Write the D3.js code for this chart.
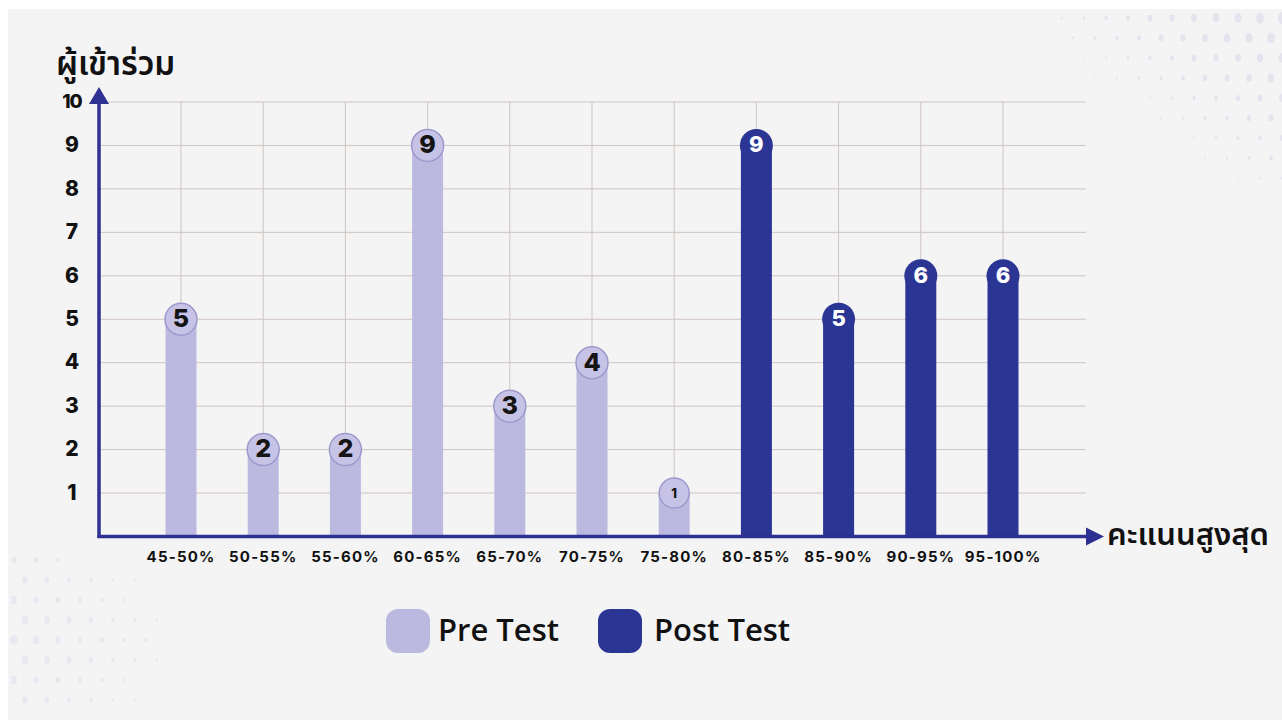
<!DOCTYPE html>
<html>
<head>
<meta charset="utf-8">
<script src="https://cdn.jsdelivr.net/npm/d3@7"></script>
<style>
  html, body { margin: 0; padding: 0; background: #fff; }
  svg { display: block; }
</style>
</head>
<body>
<svg id="chart" width="1282" height="720"></svg>
<script>
// data
const categories = ['45-50%', '50-55%', '55-60%', '60-65%', '65-70%', '70-75%', '75-80%',
  '80-85%', '85-90%', '90-95%', '95-100%'];
const preTest = [5, 2, 2, 9, 3, 4, 1, null, null, null, null];
const postTest = [null, null, null, null, null, null, null, 9, 5, 6, 6];
const yTicks = [1, 2, 3, 4, 5, 6, 7, 8, 9, 10];
const legendItems = ['Pre Test', 'Post Test'];

const PRE = '#bcb9e0';
const POST = '#2a3594';
const AXIS = '#2e3192';
const GRID = '#cfc4c0';
const thaiFont = '"Noto Sans Thai", "Noto Sans", "DejaVu Sans", sans-serif';
const numFont = 'Inter, Roboto, "DejaVu Sans", sans-serif';

const svg = d3.select('#chart');

// page background
svg.append('rect').attr('x', 8).attr('y', 9).attr('width', 1274).attr('height', 711)
  .attr('fill', '#f4f4f5');

// faint halftone decoration, top right and lower left
const deco = svg.append('g').attr('fill', '#d8d6e8');
for (let r = 0; r < 9; r++) {
  for (let c = 0; c < 14; c++) {
    const x = 1282 - c * 22 - (r % 2) * 11;
    const y = 18 + r * 20;
    const s = Math.max(0, 6 - c * 0.45 - r * 0.5);
    if (s > 0.6) deco.append('ellipse').attr('cx', x).attr('cy', y).attr('rx', s * 0.7).attr('ry', s)
      .attr('opacity', 0.55);
  }
}
for (let r = 0; r < 8; r++) {
  for (let c = 0; c < 10; c++) {
    const x = 14 + c * 22 + (r % 2) * 11;
    const y = 560 + r * 20;
    const s = Math.max(0, 5 - c * 0.5 - Math.abs(r - 4) * 0.4);
    if (s > 0.6) deco.append('ellipse').attr('cx', x).attr('cy', y).attr('rx', s * 0.7).attr('ry', s)
      .attr('opacity', 0.4);
  }
}

const x = d3.scalePoint().domain(categories).range([181, 1003]);
const y = d3.scaleLinear().domain([0, 10]).range([536.5, 102]);
const x0 = 99;
const xEnd = 1086;

// grid
const grid = svg.append('g').attr('stroke', GRID).attr('stroke-width', 1);
grid.selectAll('.h').data(yTicks).join('line')
  .attr('x1', x0).attr('x2', xEnd)
  .attr('y1', d => y(d)).attr('y2', d => y(d));
grid.selectAll('.v').data(categories).join('line')
  .attr('x1', d => x(d)).attr('x2', d => x(d))
  .attr('y1', y(10)).attr('y2', y(0));

// y tick labels
svg.append('g').selectAll('text').data(yTicks).join('text')
  .attr('x', 72).attr('y', d => y(d) + 1)
  .attr('text-anchor', 'middle').attr('dominant-baseline', 'middle')
  .attr('font-family', numFont).attr('font-weight', 800).attr('font-size', d => d === 10 ? 19 : 21)
  .attr('letter-spacing', d => d === 10 ? -1 : 0)
  .attr('fill', '#111').text(d => d);

// x tick labels
svg.append('g').selectAll('text').data(categories).join('text')
  .attr('x', d => x(d)).attr('y', 562)
  .attr('text-anchor', 'middle')
  .attr('font-family', numFont).attr('font-weight', 700).attr('font-size', 15)
  .attr('letter-spacing', 1.2)
  .attr('fill', '#111').text(d => d);

const barW = 31;

// pre test bars
const pre = svg.append('g');
const preData = categories.map((c, i) => ({ c, v: preTest[i] })).filter(d => d.v != null);
pre.selectAll('rect').data(preData).join('rect')
  .attr('x', d => x(d.c) - barW / 2).attr('width', barW)
  .attr('y', d => y(d.v)).attr('height', d => y(0) - y(d.v))
  .attr('fill', PRE);
pre.selectAll('circle').data(preData).join('circle')
  .attr('cx', d => x(d.c)).attr('cy', d => y(d.v)).attr('r', d => d.v === 1 ? 15 : 16)
  .attr('fill', '#c6c3e6').attr('stroke', '#9d99cc').attr('stroke-width', 1.5);
pre.selectAll('text').data(preData).join('text')
  .attr('x', d => x(d.c)).attr('y', d => y(d.v) + 1)
  .attr('text-anchor', 'middle').attr('dominant-baseline', 'middle')
  .attr('font-family', numFont).attr('font-weight', 800)
  .attr('font-size', d => d.v === 1 ? 13 : 25)
  .attr('fill', '#141414').text(d => d.v);

// post test bars
const post = svg.append('g');
const postData = categories.map((c, i) => ({ c, v: postTest[i] })).filter(d => d.v != null);
post.selectAll('rect').data(postData).join('rect')
  .attr('x', d => x(d.c) - barW / 2).attr('width', barW)
  .attr('y', d => y(d.v)).attr('height', d => y(0) - y(d.v))
  .attr('fill', POST);
post.selectAll('circle').data(postData).join('circle')
  .attr('cx', d => x(d.c)).attr('cy', d => y(d.v)).attr('r', 16.5)
  .attr('fill', POST);
post.selectAll('text').data(postData).join('text')
  .attr('x', d => x(d.c)).attr('y', d => y(d.v) + 1)
  .attr('text-anchor', 'middle').attr('dominant-baseline', 'middle')
  .attr('font-family', numFont).attr('font-weight', 800).attr('font-size', 22)
  .attr('fill', '#fff').text(d => d.v);

// axes with arrows
const axes = svg.append('g');
axes.append('line').attr('x1', x0).attr('x2', x0).attr('y1', 100).attr('y2', y(0) + 1.5)
  .attr('stroke', AXIS).attr('stroke-width', 3.5);
axes.append('line').attr('x1', x0 - 1.5).attr('x2', 1090).attr('y1', y(0)).attr('y2', y(0))
  .attr('stroke', AXIS).attr('stroke-width', 3.5);
axes.append('path').attr('d', `M${x0},87 L${x0 + 10},104 L${x0 - 10},104 Z`).attr('fill', AXIS);
axes.append('path').attr('d', `M1104,${y(0)} L1086,${y(0) - 9} L1086,${y(0) + 9} Z`).attr('fill', AXIS);

// axis titles
svg.append('text').attr('x', 56).attr('y', 75)
  .attr('font-family', thaiFont).attr('font-weight', 600).attr('font-size', 33)
  .attr('fill', '#111').text('ผู้เข้าร่วม');
svg.append('text').attr('x', 1107).attr('y', 545)
  .attr('font-family', thaiFont).attr('font-weight', 600).attr('font-size', 31)
  .attr('fill', '#111').text('คะแนนสูงสุด');

// legend
const legX = [386, 598];
const legColors = [PRE, POST];
const leg = svg.append('g').selectAll('g').data(legendItems).join('g')
  .attr('transform', (d, i) => `translate(${legX[i]},609)`);
leg.append('rect').attr('width', 44).attr('height', 44).attr('rx', 12)
  .attr('fill', (d, i) => legColors[i]);
leg.append('text').attr('x', (d, i) => i === 0 ? 52 : 56).attr('y', 32)
  .attr('font-family', '"Open Sans", "Noto Sans", sans-serif').attr('font-weight', 600)
  .attr('font-size', 31).attr('fill', '#111').text(d => d);

// white strip at the top edge
svg.append('rect').attr('x', 0).attr('y', 0).attr('width', 1282).attr('height', 9).attr('fill', '#fff');
</script>
</body>
</html>
